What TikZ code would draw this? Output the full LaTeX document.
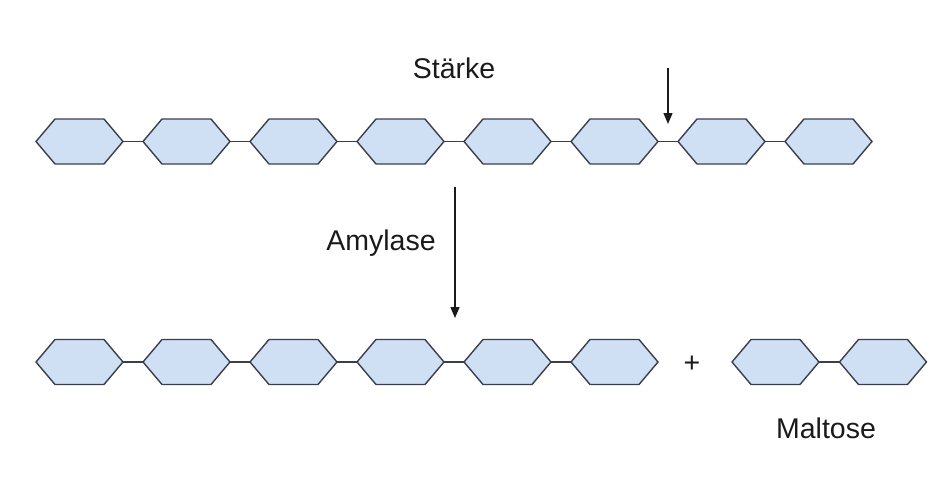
\documentclass[tikz,border=0pt]{standalone}
\usepackage{fontspec}
\setmainfont{Liberation Sans}
\usetikzlibrary{arrows.meta}
\definecolor{hexfill}{HTML}{CFE0F4}
\definecolor{hexdraw}{HTML}{3A3F4B}
\definecolor{txt}{HTML}{1A1A1A}
\begin{document}
\begin{tikzpicture}[x=1pt,y=-1pt,
  hexbox/.style={draw=none,minimum width=87pt,minimum height=45pt,inner sep=0pt,outer sep=0pt},
  hexline/.style={draw=hexdraw,fill=hexfill,line width=1.4pt,line join=miter},
  bond/.style={draw=hexdraw,line width=1.4pt},
  lbl/.style={text=txt,font=\fontsize{28.5}{34}\selectfont,inner sep=0pt},
  arr/.style={draw=txt,line width=1.3pt,-{Triangle[length=11pt,width=9pt]}}]
\useasboundingbox (0,0) rectangle (950,501);
\newcommand\hexnode[2]{%
  \node[hexbox] (#1) at (#2) {};
  \draw[hexline] (#1.west) -- ([xshift=19pt]#1.north west) -- ([xshift=-19pt]#1.north east) -- (#1.east) -- ([xshift=-19pt]#1.south east) -- ([xshift=19pt]#1.south west) -- cycle;}
% top row
\foreach \i in {0,...,7}{\hexnode{t\i}{79.5+107*\i,141.5}}
\foreach \i [evaluate=\i as \j using int(\i+1)] in {0,...,6}{\draw[bond] (t\i.east) -- (t\j.west);}
% bottom row
\foreach \i in {0,...,5}{\hexnode{b\i}{79.5+107*\i,362}}
\foreach \i [evaluate=\i as \j using int(\i+1)] in {0,...,4}{\draw[bond] (b\i.east) -- (b\j.west);}
% maltose
\hexnode{m0}{775.5,362}
\hexnode{m1}{883,362}
\draw[bond] (m0.east) -- (m1.west);
% labels
\node[lbl] (staerke) at (454,68) {Stärke};
\node[lbl] (amylase) at (381,243) {Amylase};
\node[lbl] (plus) at (692,364) {+};
\node[lbl] (maltose) at (826,428) {Maltose};
% arrows
\coordinate (a1s) at (668,68);
\coordinate (a1e) at (668,124);
\draw[arr] (a1s) -- (a1e);
\coordinate (a2s) at (455,187);
\coordinate (a2e) at (455,318);
\draw[arr] (a2s) -- (a2e);
\end{tikzpicture}
\end{document}
